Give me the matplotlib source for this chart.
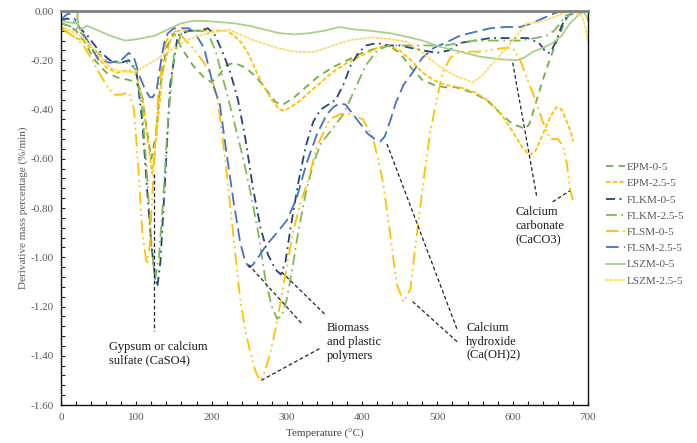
import numpy as np
import matplotlib
matplotlib.use('Agg')
import matplotlib.pyplot as plt
from matplotlib.ticker import MultipleLocator, FuncFormatter

plt.rcParams['font.family'] = ['Liberation Serif', 'DejaVu Serif']

# ---- data (temperature in C, DTG in %/min) ----
epm0_t = [0, 10, 20, 30, 45, 60, 75, 90, 100, 108, 114, 120, 126, 132, 140, 150, 160, 175, 190, 200, 210,
          220, 230, 245, 260, 275, 285, 295, 310, 325, 340, 360, 380, 400, 420, 435, 450, 465, 480, 495,
          510, 525, 545, 565, 585, 600, 610, 616, 622, 630, 640, 650, 660, 670, 676, 680]
epm0_v = [-0.05, -0.06, -0.08, -0.12, -0.2, -0.25, -0.27, -0.28, -0.29, -0.35, -0.48, -0.6, -0.5, -0.3,
          -0.15, -0.09, -0.15, -0.22, -0.27, -0.29, -0.26, -0.22, -0.21, -0.23, -0.27, -0.33, -0.37, -0.38,
          -0.35, -0.31, -0.27, -0.23, -0.2, -0.17, -0.15, -0.14, -0.17, -0.23, -0.28, -0.3, -0.31, -0.31,
          -0.33, -0.36, -0.42, -0.46, -0.47, -0.48, -0.46, -0.38, -0.28, -0.19, -0.11, -0.04, -0.01, -0.01]

epm25_t = [0, 10, 20, 30, 45, 60, 75, 90, 100, 108, 115, 121, 127, 135, 145, 155, 165, 180, 200, 220,
           230, 240, 250, 260, 270, 280, 290, 297, 305, 315, 330, 345, 360, 380, 400, 420, 435, 450, 465,
           480, 495, 510, 530, 550, 570, 585, 600, 612, 622, 630, 640, 650, 658, 665, 672, 678, 680]
epm25_v = [-0.06, -0.09, -0.11, -0.12, -0.17, -0.23, -0.25, -0.24, -0.26, -0.35, -0.52, -0.66, -0.5,
           -0.25, -0.12, -0.08, -0.08, -0.08, -0.08, -0.08, -0.1, -0.13, -0.18, -0.25, -0.31, -0.36, -0.4,
           -0.405, -0.39, -0.37, -0.33, -0.29, -0.25, -0.21, -0.18, -0.15, -0.14, -0.16, -0.2, -0.25,
           -0.28, -0.3, -0.31, -0.33, -0.37, -0.42, -0.49, -0.55, -0.585, -0.57, -0.5, -0.43, -0.39, -0.4,
           -0.45, -0.5, -0.53]

flkm0_t = [0, 8, 15, 25, 35, 50, 65, 80, 90, 100, 108, 115, 120, 125, 128, 132, 138, 145, 155, 170, 185,
           195, 205, 215, 225, 235, 245, 255, 265, 275, 285, 292, 298, 305, 315, 325, 335, 345, 355, 365,
           375, 385, 395, 405, 420, 435, 450, 465, 480, 500, 515, 530, 550, 570, 600, 620, 635, 645, 650,
           658, 665, 672, 680]
flkm0_v = [-0.04, -0.03, -0.04, -0.07, -0.1, -0.16, -0.2, -0.21, -0.2, -0.24, -0.45, -0.75, -0.95, -1.08,
           -1.12, -1.02, -0.7, -0.3, -0.1, -0.08, -0.08, -0.07, -0.1, -0.17, -0.25, -0.36, -0.52, -0.72,
           -0.88, -0.99, -1.05, -1.07, -1.02, -0.88, -0.7, -0.55, -0.45, -0.4, -0.38, -0.36, -0.3, -0.22,
           -0.17, -0.14, -0.13, -0.14, -0.14, -0.15, -0.16, -0.17, -0.16, -0.13, -0.12, -0.11, -0.11,
           -0.11, -0.13, -0.17, -0.17, -0.12, -0.06, -0.02, -0.01]

flkm25_t = [0, 10, 20, 30, 45, 60, 75, 90, 100, 108, 115, 120, 125, 130, 135, 142, 150, 160, 170, 185,
            195, 205, 212, 220, 230, 242, 252, 262, 272, 280, 287, 293, 300, 307, 315, 325, 335, 345, 360,
            375, 390, 405, 420, 435, 450, 470, 490, 510, 530, 550, 570, 590, 610, 630, 645, 655, 663, 670,
            678]
flkm25_v = [-0.05, -0.06, -0.07, -0.1, -0.16, -0.2, -0.21, -0.21, -0.24, -0.4, -0.7, -0.95, -1.09, -1.0,
            -0.8, -0.45, -0.18, -0.09, -0.08, -0.08, -0.09, -0.16, -0.24, -0.33, -0.45, -0.6, -0.74, -0.9,
            -1.1, -1.2, -1.25, -1.24, -1.17, -1.05, -0.9, -0.74, -0.62, -0.54, -0.48, -0.42, -0.32, -0.22,
            -0.16, -0.14, -0.14, -0.14, -0.14, -0.14, -0.13, -0.12, -0.12, -0.12, -0.12, -0.11, -0.1, -0.08,
            -0.05, -0.02, -0.01]

flsm0_t = [0, 10, 20, 30, 45, 60, 70, 80, 90, 97, 103, 108, 114, 118, 122, 130, 140, 150, 160, 175, 190,
           200, 207, 211, 218, 224, 231, 238, 245, 251, 258, 264, 270, 278, 287, 295, 308, 318, 327, 340,
           357, 370, 380, 392, 401, 414, 421, 428, 437, 446, 455, 464, 473, 481, 490, 499, 507, 517, 530,
           545, 560, 575, 590, 600, 610, 620, 630, 640, 650, 660, 667, 672, 676, 680]
flsm0_v = [-0.07, -0.09, -0.11, -0.14, -0.22, -0.3, -0.34, -0.34, -0.33, -0.4, -0.65, -0.9, -1.03, -0.95,
           -0.7, -0.3, -0.12, -0.08, -0.1, -0.15, -0.21, -0.27, -0.35, -0.43, -0.6, -0.77, -0.97, -1.17,
           -1.3, -1.38, -1.46, -1.5, -1.47, -1.39, -1.26, -1.12, -0.9, -0.78, -0.7, -0.55, -0.44, -0.42,
           -0.415, -0.43, -0.44, -0.51, -0.6, -0.7, -0.9, -1.11, -1.18, -1.13, -0.9, -0.7, -0.5, -0.36,
           -0.25, -0.19, -0.165, -0.165, -0.165, -0.155, -0.15, -0.15, -0.2, -0.28, -0.36, -0.45, -0.52,
           -0.52, -0.55, -0.62, -0.72, -0.77]

flsm25_t = [0, 5, 10, 15, 20, 25, 35, 50, 65, 80, 90, 97, 105, 112, 118, 122, 127, 132, 137, 142, 150,
            160, 170, 180, 190, 202, 211, 220, 229, 238, 245, 250, 255, 262, 273, 287, 300, 313, 326, 340,
            353, 362, 370, 378, 388, 398, 408, 417, 424, 430, 438, 445, 455, 467, 480, 495, 510, 530, 550,
            570, 590, 610, 625, 640, 655, 665, 675, 680]
flsm25_v = [-0.04, -0.02, -0.01, -0.02, -0.04, -0.07, -0.12, -0.2, -0.21, -0.2, -0.17, -0.19, -0.27,
            -0.32, -0.35, -0.35, -0.32, -0.22, -0.13, -0.09, -0.07, -0.07, -0.07, -0.1, -0.15, -0.3, -0.38,
            -0.58, -0.77, -0.94, -1.02, -1.04, -1.03, -1.0, -0.95, -0.9, -0.85, -0.76, -0.62, -0.5, -0.42,
            -0.39, -0.375, -0.38, -0.42, -0.46, -0.5, -0.52, -0.53, -0.51, -0.44, -0.37, -0.3, -0.25,
            -0.19, -0.15, -0.13, -0.1, -0.085, -0.07, -0.065, -0.065, -0.05, -0.03, -0.01, 0.0, -0.005,
            -0.01]

lszm0_t = [0, 10, 18, 21, 22, 23, 25, 35, 50, 65, 85, 100, 125, 145, 160, 175, 190, 210, 230, 250, 270,
           290, 310, 330, 350, 370, 390, 410, 437, 460, 480, 503, 530, 556, 580, 605, 615, 627, 640, 653,
           665, 676, 683, 689, 694, 698, 700]
lszm0_v = [-0.04, -0.045, -0.05, -0.05, 0.0, -0.07, -0.075, -0.06, -0.08, -0.1, -0.12, -0.115, -0.1,
           -0.07, -0.05, -0.04, -0.04, -0.045, -0.05, -0.06, -0.075, -0.09, -0.095, -0.09, -0.08, -0.065,
           -0.075, -0.08, -0.09, -0.105, -0.12, -0.145, -0.165, -0.185, -0.195, -0.2, -0.19, -0.165, -0.15,
           -0.13, -0.1, -0.05, -0.03, -0.01, -0.005, -0.02, -0.04]

lszm25_t = [0, 8, 20, 30, 45, 65, 80, 96, 114, 140, 167, 194, 224, 255, 287, 310, 335, 362, 384, 414,
            440, 459, 480, 503, 525, 547, 560, 574, 592, 605, 619, 636, 655, 670, 682, 692, 696, 700]
lszm25_v = [-0.06, -0.075, -0.09, -0.11, -0.16, -0.23, -0.245, -0.25, -0.22, -0.17, -0.118, -0.09,
            -0.077, -0.118, -0.15, -0.165, -0.167, -0.14, -0.118, -0.107, -0.115, -0.125, -0.17, -0.226,
            -0.265, -0.29, -0.26, -0.21, -0.15, -0.1, -0.05, -0.045, -0.025, -0.005, -0.01, -0.02, -0.06,
            -0.12]

names = ['EPM-0-5', 'EPM-2.5-5', 'FLKM-0-5', 'FLKM-2.5-5', 'FLSM-0-5', 'FLSM-2.5-5', 'LSZM-0-5', 'LSZM-2.5-5']
temps = [epm0_t, epm25_t, flkm0_t, flkm25_t, flsm0_t, flsm25_t, lszm0_t, lszm25_t]
vals = [epm0_v, epm25_v, flkm0_v, flkm25_v, flsm0_v, flsm25_v, lszm0_v, lszm25_v]

colors = ['#70AD47', '#FFC000', '#264478', '#7DB954', '#FFC000', '#4472C4', '#A9D18E', '#FFD966']
styles = [(0, (4, 3)), (0, (2.5, 1.2)), (0, (5, 2.5, 1, 2.5)), (0, (6, 2.5, 1, 2.5)),
          (0, (7, 2.5, 1, 2, 1, 2.5)), (0, (7, 3)), '-', (0, (1, 1.3))]

# annotation texts and their leader lines
notes = ['Gypsum or calcium\nsulfate (CaSO4)', 'Biomass\nand plastic\npolymers',
         'Calcium\nhydroxide\n(Ca(OH)2)', 'Calcium\ncarbonate\n(CaCO3)']
note_xy = [(64, -1.392), (353, -1.343), (538, -1.343), (604, -0.874)]
leaders = [((123, -0.66), (123, -1.30)),
           ((249, -1.03), (320, -1.27)),
           ((293, -1.06), (350, -1.23)),
           ((266, -1.50), (344, -1.37)),
           ((433, -0.54), (527, -1.30)),
           ((467, -1.18), (527, -1.345)),
           ((600, -0.21), (632, -0.755)),
           ((653, -0.775), (676, -0.73))]

fig = plt.figure(figsize=(6.97, 4.43), dpi=100)
ax = fig.add_axes([61 / 697, 1 - 405 / 443, (588 - 61) / 697, (405 - 11) / 443])

for t, v, c, s, n in zip(temps, vals, colors, styles, names):
    ax.plot(t, v, color=c, ls=s, lw=1.3, label=n, dash_capstyle='round' if n == 'LSZM-2.5-5' else 'butt')

for (x0, y0), (x1, y1) in leaders:
    ax.plot([x0, x1], [y0, y1], color='#222222', lw=0.9, ls=(0, (3, 2)))

for txt, (x, y) in zip(notes, note_xy):
    ax.text(x, y, txt, fontsize=9, ha='left', va='center', color='#1a1a1a', linespacing=1.2)

ax.set_xlim(0, 700)
ax.set_ylim(-1.6, 0)
ax.xaxis.set_major_locator(MultipleLocator(100))
ax.xaxis.set_minor_locator(MultipleLocator(20))
ax.yaxis.set_major_locator(MultipleLocator(0.2))
ax.yaxis.set_minor_locator(MultipleLocator(0.04))
ax.yaxis.set_major_formatter(FuncFormatter(lambda v, p: '%.2f' % (0.0 if abs(v) < 1e-9 else v)))
ax.tick_params(which='both', direction='in', length=3, width=0.8, color='#222222',
               labelsize=8, labelcolor='#595959', top=False, right=False)
ax.tick_params(axis='x', pad=6)
ax.tick_params(axis='y', pad=5)

for sp in ['left', 'bottom', 'right']:
    ax.spines[sp].set_color('#111111')
    ax.spines[sp].set_linewidth(1.0)
ax.spines['top'].set_color('#808080')
ax.spines['top'].set_linewidth(2.0)

ax.set_xlabel('Temperature (\u00b0C)', fontsize=8, color='#404040', labelpad=5)
ax.set_ylabel('Derivative mass percentage (%/min)', fontsize=8, color='#595959', labelpad=2)

leg = fig.legend(loc='center left', bbox_to_anchor=(606 / 697, 1 - 224 / 443), frameon=False,
                 fontsize=8, handlelength=1.7, handletextpad=0.2, labelspacing=0.58,
                 borderpad=0, borderaxespad=0)
for tx in leg.get_texts():
    tx.set_color('#595959')

fig.savefig('out.png', dpi=100)
